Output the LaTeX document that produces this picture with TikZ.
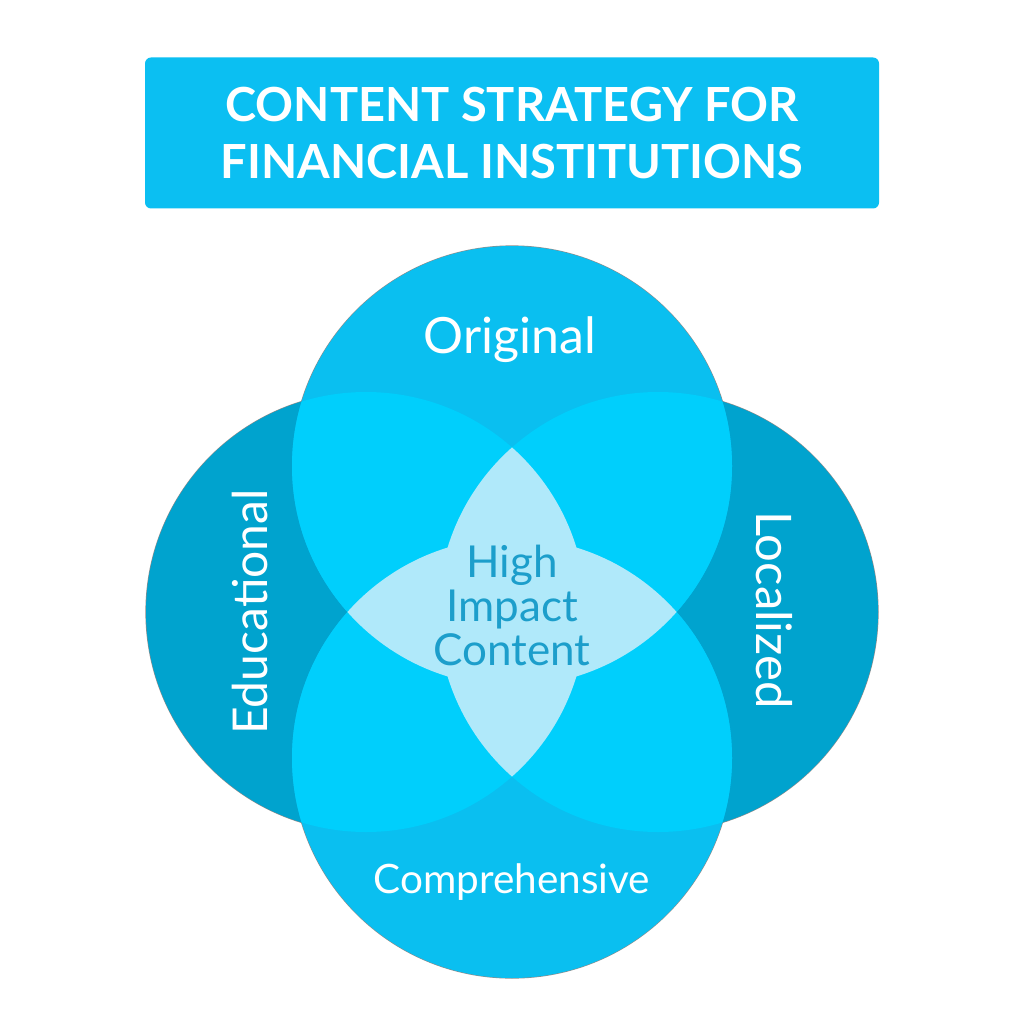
\documentclass[tikz,border=0pt]{standalone}
\usepackage{fontspec}
\setmainfont{Lato}
\usetikzlibrary{positioning}
\definecolor{titlefill}{HTML}{0BBFF2}
\definecolor{vertfill}{HTML}{0ABFF0}
\definecolor{sidefill}{HTML}{00A3CE}
\definecolor{overlap}{HTML}{00CFFC}
\definecolor{core}{HTML}{B0E9FA}
\definecolor{coretext}{HTML}{1C9ECB}
\definecolor{rim}{HTML}{8C8C8C}

\begin{document}
\begin{tikzpicture}[x=1pt,y=1pt,
      every circle/.style={radius=220pt},
      banner/.style={fill=titlefill,rounded corners=6pt,minimum width=734pt,minimum height=151pt,align=center,text=white,inner sep=0pt,font=\bfseries\fontsize{47}{57}\selectfont},
      circletext/.style={text=white,inner sep=0pt,anchor=base,font=\fontsize{48}{50}\selectfont},
      coretitle/.style={text=coretext,inner sep=0pt,align=center,font=\fontsize{44}{44}\selectfont}
    ]
      \useasboundingbox[fill=white] (0,0) rectangle (1024,-1024);
      \node[banner] (head) at (512,-133) {CONTENT STRATEGY FOR\\FINANCIAL INSTITUTIONS};
      \coordinate (orig) at (512,-466);
      \coordinate (comp) at (512,-758);
      \coordinate (edu) at (366,-612);
      \coordinate (loc) at (658,-612);
      \foreach \c in {edu,loc,orig,comp}
        \draw[rim,line width=1.2pt] (\c) circle;
      \fill[sidefill] (edu) circle;
      \fill[sidefill] (loc) circle;
      \fill[vertfill] (orig) circle;
      \fill[vertfill] (comp) circle;
      \foreach \a/\b in {orig/edu,orig/loc,comp/edu,comp/loc}{
        \begin{scope}
          \clip (\a) circle;
          \fill[overlap] (\b) circle;
        \end{scope}
      }
      \begin{scope}
        \clip (edu) circle;
        \fill[core] (loc) circle;
      \end{scope}
      \begin{scope}
        \clip (orig) circle;
        \fill[core] (comp) circle;
      \end{scope}
      \node[circletext,font=\fontsize{50}{52}\selectfont] (original) at (510,-353) {Original};
      \node[circletext,font=\fontsize{40.5}{46}\selectfont] (comprehensive) at (512,-893) {Comprehensive};
      \node[circletext,rotate=90] (educational) at (267,-612) {Educational};
      \node[circletext,rotate=-90,font=\fontsize{49}{50}\selectfont] (localized) at (756,-610) {Localized};
      \node[coretitle] (impact) at (512,-605) {High\\Impact\\Content};
    \end{tikzpicture}
\end{document}
